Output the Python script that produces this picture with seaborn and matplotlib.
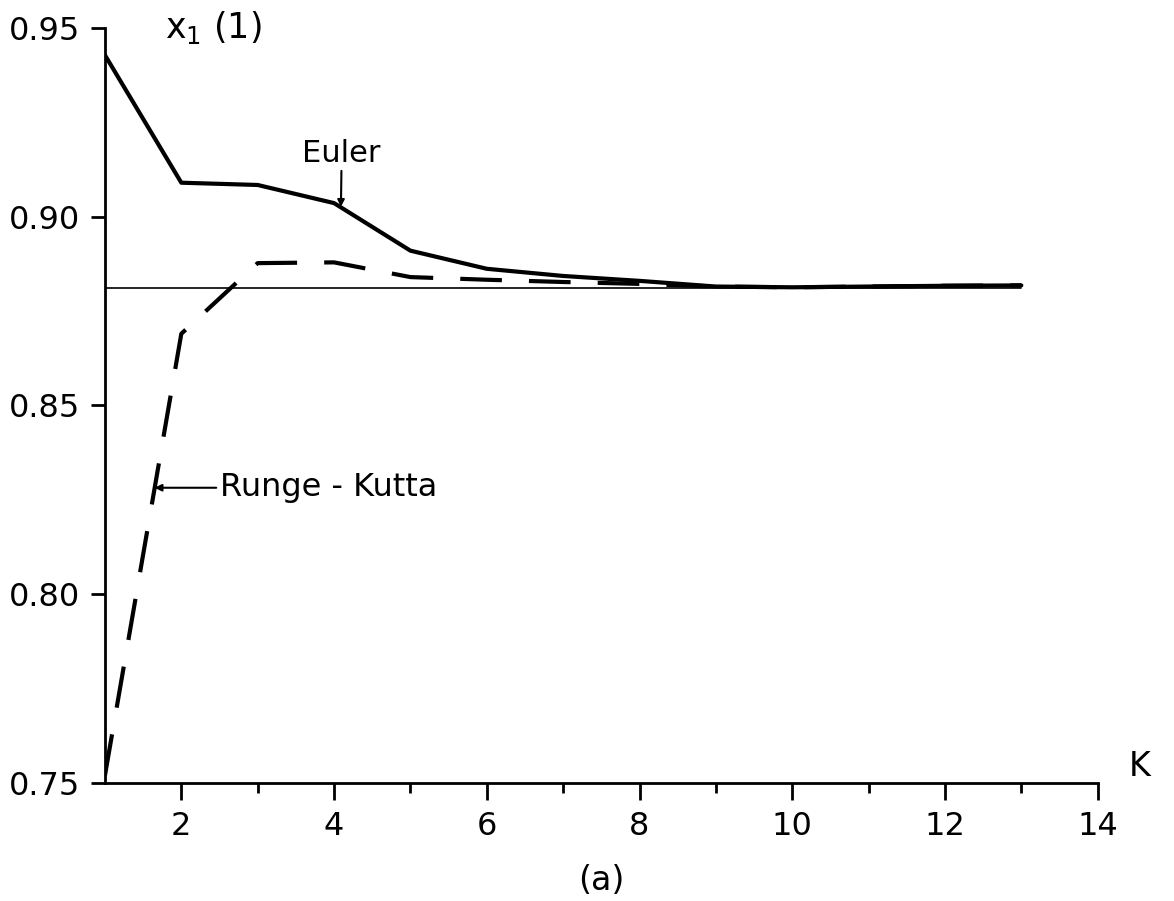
import matplotlib
matplotlib.use("Agg")
import matplotlib.pyplot as plt
import seaborn as sns
import pandas as pd

# ---- data ----
k_values = [1, 2, 3, 4, 5, 6, 7, 8, 9, 10, 11, 12, 13]
euler = [0.9428, 0.9090, 0.9084, 0.9036, 0.8910, 0.8862, 0.8843, 0.8830, 0.8815, 0.8813, 0.8815, 0.8817, 0.8818]
runge_kutta = [0.7520, 0.8690, 0.8877, 0.8879, 0.8840, 0.8833, 0.8827, 0.8822, 0.8815, 0.8813, 0.8815, 0.8817, 0.8818]
reference_value = 0.8810
x_ticks = [2, 4, 6, 8, 10, 12, 14]
y_ticks = [0.75, 0.80, 0.85, 0.90, 0.95]
y_tick_labels = ["0.75", "0.80", "0.85", "0.90", "0.95"]

df = pd.DataFrame({"K": k_values, "Euler": euler, "Runge-Kutta": runge_kutta})

sns.set_theme(style="ticks")
plt.rcParams["font.family"] = ["DejaVu Sans"]
plt.rcParams["mathtext.fontset"] = "dejavusans"
plt.rcParams["text.color"] = "black"
plt.rcParams["axes.labelcolor"] = "black"
plt.rcParams["xtick.color"] = "black"
plt.rcParams["ytick.color"] = "black"

fig = plt.figure(figsize=(11.74, 9.01), dpi=100)
ax = fig.add_axes([0.0894, 0.131, 0.8456, 0.838])

# reference (thin) line
ax.plot([k_values[0], k_values[-1]], [reference_value, reference_value], color="black", lw=1.2)

sns.lineplot(data=df, x="K", y="Euler", ax=ax, color="black", lw=3.0)
sns.lineplot(data=df, x="K", y="Runge-Kutta", ax=ax, color="black", lw=3.0,
             linestyle=(0, (10, 6.5)))

ax.set_xlim(1, 14)
ax.set_ylim(0.75, 0.95)
ax.set_xticks(x_ticks)
ax.set_xticks(range(3, 14, 2), minor=True)
ax.set_yticks(y_ticks)
ax.set_yticklabels(y_tick_labels)
ax.tick_params(axis="both", which="major", labelsize=23, width=2, length=12,
               color="black", labelcolor="black", pad=8)
ax.tick_params(axis="x", which="minor", width=2, length=7, color="black")
ax.tick_params(axis="y", which="major", length=10)
for s in ["left", "bottom"]:
    ax.spines[s].set_linewidth(2)
    ax.spines[s].set_color("black")
sns.despine(ax=ax)

ax.set_ylabel("")
ax.set_xlabel("(a)", fontsize=24, labelpad=16, color="black")

ax.text(0.06, 1.0, r"x$_1$ (1)", transform=ax.transAxes, fontsize=25, va="center", ha="left",
        color="black")
ax.text(14.55, 0.75, "K", fontsize=24, va="bottom", ha="center", color="black")

ax.annotate("Euler", xy=(4.09, 0.9026), xytext=(4.1, 0.913), fontsize=22,
            ha="center", va="bottom", color="black",
            arrowprops=dict(arrowstyle="-|>", color="black", lw=1.5, mutation_scale=10,
                            shrinkA=0, shrinkB=0))
ax.annotate("Runge - Kutta", xy=(1.65, 0.8282), xytext=(2.5, 0.8282), fontsize=23,
            ha="left", va="center", color="black",
            arrowprops=dict(arrowstyle="-|>", color="black", lw=1.5, mutation_scale=10,
                            shrinkA=0, shrinkB=0))

fig.savefig("out.png", dpi=100)
